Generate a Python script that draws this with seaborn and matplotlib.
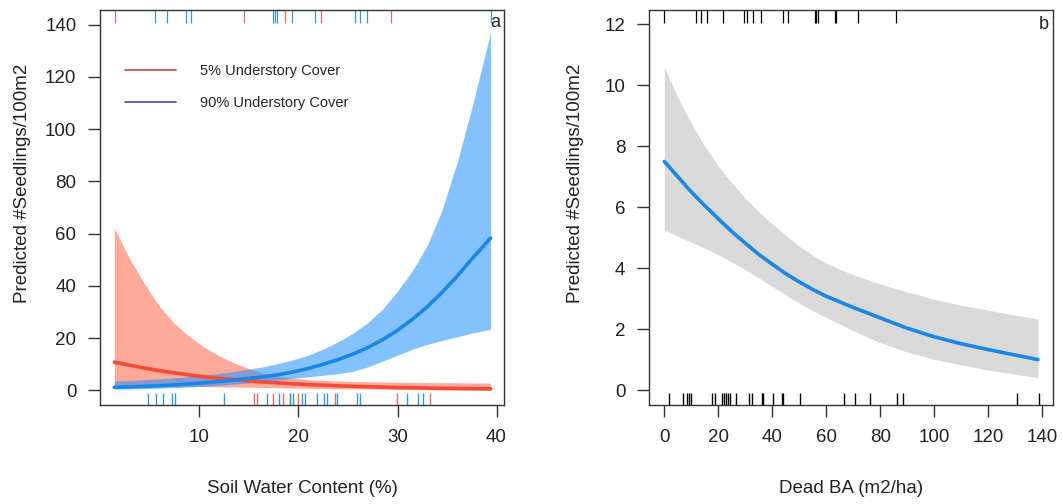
import numpy as np
import pandas as pd
import matplotlib
matplotlib.use("Agg")
import matplotlib.pyplot as plt
import seaborn as sns
from matplotlib.lines import Line2D

# panel a: soil water content, two understory cover levels
swc = [1.4, 3, 4.5, 6, 7.5, 9, 10.5, 12, 13.5, 15, 16.5, 18, 19.5, 21, 22.5, 24,
       25.5, 27, 28.5, 30, 31.5, 33, 34.5, 36, 37.5, 39.4]
red_fit = [10.8, 9.6, 8.5, 7.5, 6.7, 5.9, 5.2, 4.6, 4.1, 3.6, 3.2, 2.85, 2.5, 2.2,
           2.0, 1.75, 1.55, 1.4, 1.25, 1.1, 1.0, 0.9, 0.8, 0.72, 0.65, 0.58]
red_upper = [62.0, 50.0, 40.5, 32.0, 25.5, 20.5, 16.5, 13.2, 10.5, 8.3, 6.6, 5.4, 4.6,
             4.1, 3.8, 3.6, 3.4, 3.3, 3.2, 3.1, 3.05, 3.0, 2.95, 2.9, 2.85, 2.8]
red_lower = [1.8, 1.75, 1.7, 1.65, 1.6, 1.5, 1.45, 1.35, 1.3, 1.2, 1.1, 1.0, 0.9, 0.8,
             0.7, 0.6, 0.55, 0.5, 0.42, 0.36, 0.3, 0.25, 0.2, 0.17, 0.14, 0.1]
blue_fit = [1.2, 1.35, 1.55, 1.8, 2.1, 2.5, 2.9, 3.4, 4.0, 4.6, 5.2, 6.0, 7.1, 8.4,
            10.0, 11.8, 13.9, 16.4, 19.4, 23.0, 27.2, 32.0, 37.5, 43.6, 50.3, 58.3]
blue_upper = [3.6, 3.8, 4.1, 4.4, 4.8, 5.3, 5.8, 6.5, 7.3, 8.2, 9.1, 10.3, 11.8, 13.5,
              15.8, 18.6, 21.9, 25.9, 31.2, 38.0, 45.8, 55.5, 69.0, 87.0, 108.0, 137.0]
blue_lower = [0.45, 0.55, 0.7, 0.85, 1.05, 1.3, 1.6, 2.0, 2.4, 2.9, 3.4, 4.0, 4.6, 5.2,
              5.8, 6.4, 7.3, 9.0, 11.2, 13.5, 15.8, 17.6, 19.1, 20.5, 21.9, 23.4]

rug_top_red_a = [1.5, 14.45, 18.65, 22.3, 29.3]
rug_top_blue_a = [5.5, 6.7, 8.6, 9.1, 17.4, 17.6, 17.8, 19.3, 21.7, 25.7, 26.2, 26.9, 39.4]
rug_bot_red_a = [15.5, 15.8, 17.4, 18.4, 19.1, 19.9, 23.7, 29.9, 33.3]
rug_bot_blue_a = [4.8, 5.6, 6.3, 7.2, 7.55, 12.5, 16.8, 18.0, 19.1, 19.4, 20.4, 20.7,
                  21.85, 22.6, 22.85, 23.9, 25.9, 26.2, 30.95, 32.1, 32.55]

# panel b: dead basal area
dead_ba = [0, 5, 10, 15, 20, 25, 30, 35, 40, 45, 50, 55, 60, 70, 80, 90, 100, 110,
           120, 130, 138.5]
b_fit = [7.5, 7.0, 6.5, 6.05, 5.62, 5.2, 4.82, 4.45, 4.13, 3.82, 3.55, 3.3, 3.08,
         2.71, 2.37, 2.03, 1.75, 1.52, 1.33, 1.15, 1.0]
b_upper = [10.6, 9.6, 8.75, 8.0, 7.35, 6.8, 6.3, 5.85, 5.45, 5.08, 4.72, 4.42, 4.16,
           3.78, 3.48, 3.22, 2.98, 2.78, 2.62, 2.46, 2.33]
b_lower = [5.24, 5.05, 4.85, 4.65, 4.44, 4.2, 3.95, 3.68, 3.4, 3.12, 2.85, 2.6, 2.38,
           1.95, 1.55, 1.25, 1.01, 0.83, 0.66, 0.52, 0.41]

rug_top_b = [0, 11.6, 13.6, 15.9, 21.6, 29.6, 30.7, 33.0, 35.7, 44.1, 45.9, 55.8, 56.4,
             56.9, 63.3, 63.7, 71.9, 85.8]
rug_bot_b = [1.7, 6.8, 8.5, 9.3, 9.9, 17.6, 18.8, 21.3, 22.1, 22.9, 23.7, 24.3, 26.6, 31.5,
             32.4, 36.3, 36.7, 40.1, 43.5, 43.9, 50.3, 66.7, 70.6, 76.4, 86.4, 88.5, 130.9, 138.8]

sns.set_style("white")
plt.rcParams['font.family'] = ['Liberation Sans', 'DejaVu Sans']

fig = plt.figure(figsize=(10.63, 5.04), dpi=100)
ax1 = fig.add_axes([0.0945, 0.1964, 0.3796, 0.7838])
ax2 = fig.add_axes([0.611, 0.1964, 0.3799, 0.7838])


def rug_top(ax, xs, color):
    ax.vlines(xs, 0.968, 1.0, transform=ax.get_xaxis_transform(), colors=color, lw=0.9)


def rug_bottom(ax, xs, color):
    sns.rugplot(x=xs, ax=ax, height=0.03, color=color, lw=0.9, expand_margins=False)


# --- panel a ---
ax1.fill_between(swc, red_lower, red_upper, color="#ff6347", alpha=0.55, lw=0)
ax1.fill_between(swc, blue_lower, blue_upper, color="#1e90ff", alpha=0.55, lw=0)
sns.lineplot(x=swc, y=red_fit, ax=ax1, color="#f44b36", lw=2.6, sort=False)
sns.lineplot(x=swc, y=blue_fit, ax=ax1, color="#1a86e6", lw=2.6, sort=False)

rug_top(ax1, rug_top_red_a, "#e0705f")
rug_top(ax1, rug_top_blue_a, "#3a98d8")
rug_bottom(ax1, rug_bot_red_a, "#e0705f")
rug_bottom(ax1, rug_bot_blue_a, "#3a98d8")

ax1.set_xlim(0.0, 40.75)
ax1.set_ylim(-5.6, 145.6)
ax1.set_xticks([10, 20, 30, 40])
ax1.set_yticks(range(0, 141, 20))
ax1.set_xlabel("Soil Water Content (%)")
ax1.set_ylabel("Predicted #Seedlings/100m2")
ax1.xaxis.set_label_coords(0.5, -0.19)
ax1.yaxis.set_label_coords(-0.172, 0.56)
ax1.text(0.99, 0.99, "a", transform=ax1.transAxes, ha="right", va="top", fontsize=13)

handles = [Line2D([], [], color="#d03c3c", lw=1.2),
           Line2D([], [], color="#3848b0", lw=1.2)]
ax1.legend(handles, ["5% Understory Cover", "90% Understory Cover"],
           loc="upper left", bbox_to_anchor=(0.06, 0.862), frameon=False, fontsize=10.5,
           handlelength=3.5, handletextpad=1.7, labelspacing=1.2, borderpad=0,
           borderaxespad=0)

# --- panel b ---
ax2.fill_between(dead_ba, b_lower, b_upper, color="#d9d9d9", lw=0)
sns.lineplot(x=dead_ba, y=b_fit, ax=ax2, color="#1a86e6", lw=2.6, sort=False)
rug_top(ax2, rug_top_b, "black")
rug_bottom(ax2, rug_bot_b, "black")

ax2.set_xlim(-5.5, 144.2)
ax2.set_ylim(-0.49, 12.47)
ax2.set_xticks(range(0, 141, 20))
ax2.set_yticks(range(0, 13, 2))
ax2.set_xlabel("Dead BA (m2/ha)")
ax2.set_ylabel("Predicted #Seedlings/100m2")
ax2.xaxis.set_label_coords(0.5, -0.19)
ax2.yaxis.set_label_coords(-0.162, 0.56)
ax2.text(0.99, 0.985, "b", transform=ax2.transAxes, ha="right", va="top", fontsize=13)

for ax in (ax1, ax2):
    for sp in ax.spines.values():
        sp.set_color("#333333")
        sp.set_linewidth(1.0)
        sp.set_visible(True)
    ax.tick_params(axis="both", which="major", direction="out", length=8.3, width=1.0,
                   color="#333333", pad=9.0, labelsize=13.5, labelcolor="#222222",
                   bottom=True, left=True)
    ax.xaxis.label.set_size(13.5)
    ax.yaxis.label.set_size(13.5)
    ax.xaxis.label.set_color("#222222")
    ax.yaxis.label.set_color("#222222")
    ax.grid(False)

fig.savefig("out.png", dpi=100)
